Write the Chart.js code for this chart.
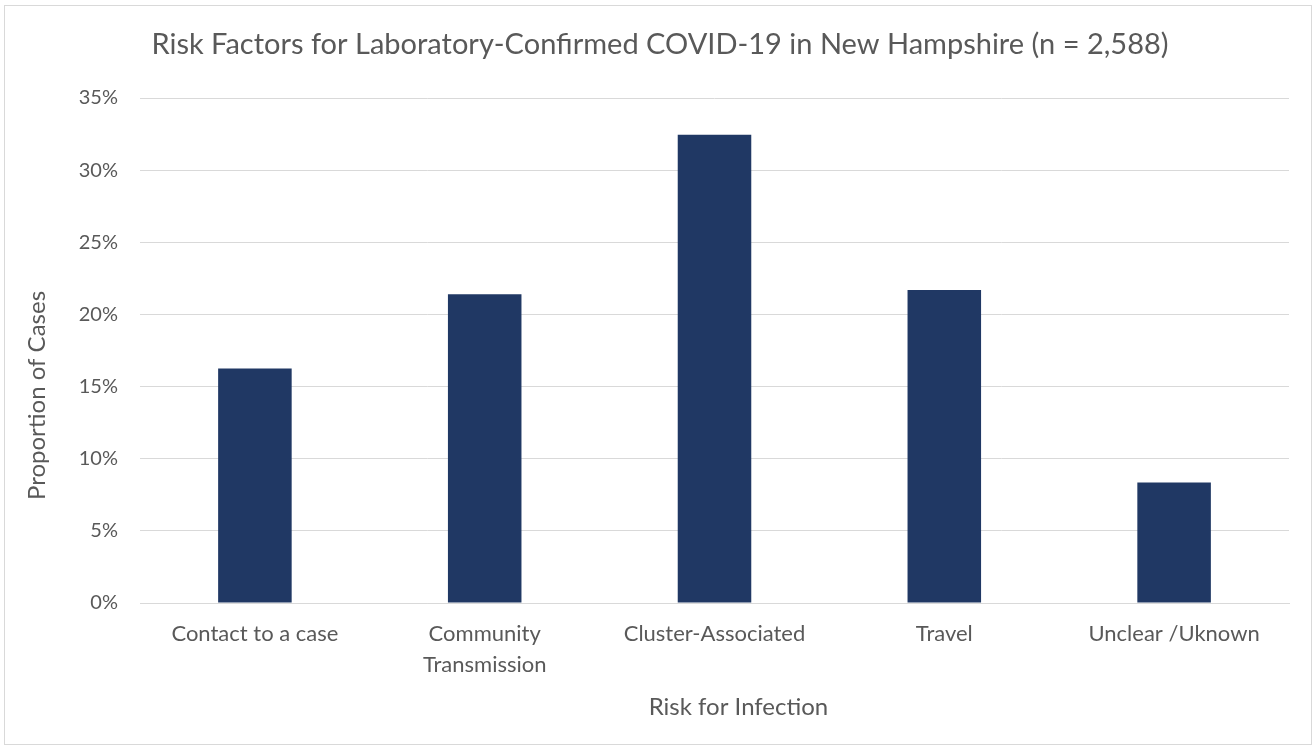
<!DOCTYPE html>
<html>
<head>
<meta charset="utf-8">
<script src="https://cdn.jsdelivr.net/npm/chart.js@4"></script>
<style>
  html, body { margin: 0; padding: 0; background: #fff; }
  #frame {
    position: absolute; left: 4px; top: 5px;
    width: 1306px; height: 738px;
    border: 1px solid #d9d9d9;
  }
</style>
</head>
<body>
<div id="frame"><canvas id="myChart"></canvas></div>
<script>
const categories = ["Contact to a case", ["Community", "Transmission"], "Cluster-Associated", "Travel", "Unclear /Uknown"];
const proportions = [16.25, 21.4, 32.45, 21.7, 8.35];
const yTicks = [0, 5, 10, 15, 20, 25, 30, 35];

const textGray = "#595959";
const fontName = "Lato, 'Open Sans', sans-serif";

// shift a drawing routine by dx,dy (Excel places titles a bit off-centre)
function shiftDraw(obj, fn, dx, dy) {
  if (!obj || obj["_shifted_" + fn]) return;
  const orig = obj[fn];
  obj["_shifted_" + fn] = true;
  obj[fn] = function (...args) {
    const ctx = this.ctx;
    ctx.save();
    ctx.translate(dx, dy);
    orig.apply(this, args);
    ctx.restore();
  };
}

const titleOffsets = {
  id: "titleOffsets",
  afterLayout(chart) {
    shiftDraw(chart.scales.x, "drawTitle", 24, 0);
    shiftDraw(chart.scales.y, "drawTitle", 0, 45);
    shiftDraw(chart.titleBlock, "draw", 13, 0);
  },
};

const data = {
  labels: categories,
  datasets: [
    {
      label: "Proportion of Cases",
      backgroundColor: "#203864",
      borderColor: "#203864",
      data: proportions,
      barPercentage: 0.32,
      categoryPercentage: 1,
    },
  ],
};

const config = {
  type: "bar",
  data: data,
  plugins: [titleOffsets],
  options: {
    responsive: true,
    maintainAspectRatio: false,
    animation: false,
    layout: { padding: { top: 0, left: 0, right: 22, bottom: 0 } },
    plugins: {
      legend: { display: false },
      tooltip: { enabled: false },
      title: {
        display: true,
        text: "Risk Factors for Laboratory-Confirmed COVID-19 in New Hampshire (n = 2,588)",
        color: textGray,
        font: { family: fontName, size: 29, weight: "normal", lineHeight: 1.2 },
        padding: { top: 21.6, bottom: 35.6 },
      },
    },
    scales: {
      x: {
        grid: { display: false, drawTicks: false },
        border: { display: true, color: "#d9d9d9", width: 1 },
        ticks: {
          color: textGray,
          padding: 15.5,
          maxRotation: 0,
          autoSkip: false,
          font: { family: fontName, size: 22, lineHeight: 1.41 },
        },
        title: {
          display: true,
          text: "Risk for Infection",
          color: textGray,
          font: { family: fontName, size: 24, lineHeight: 1.2 },
          padding: { top: 0, bottom: 22.6 },
        },
        afterFit: (scale) => { scale.height = 141; },
      },
      y: {
        min: 0,
        max: 35,
        afterBuildTicks: (scale) => { scale.ticks = yTicks.map((v) => ({ value: v })); },
        grid: { color: "#d9d9d9", lineWidth: 1, drawTicks: false },
        border: { display: false },
        ticks: {
          color: textGray,
          padding: 22,
          font: { family: fontName, size: 20 },
          callback: (v) => v + "%",
        },
        title: {
          display: true,
          text: "Proportion of Cases",
          color: textGray,
          font: { family: fontName, size: 24, lineHeight: 1.2 },
          padding: { top: 18, bottom: 0 },
        },
        afterFit: (scale) => { scale.width = 135; },
      },
    },
  },
};

const myChart = new Chart(document.getElementById("myChart"), config);
</script>
</body>
</html>
